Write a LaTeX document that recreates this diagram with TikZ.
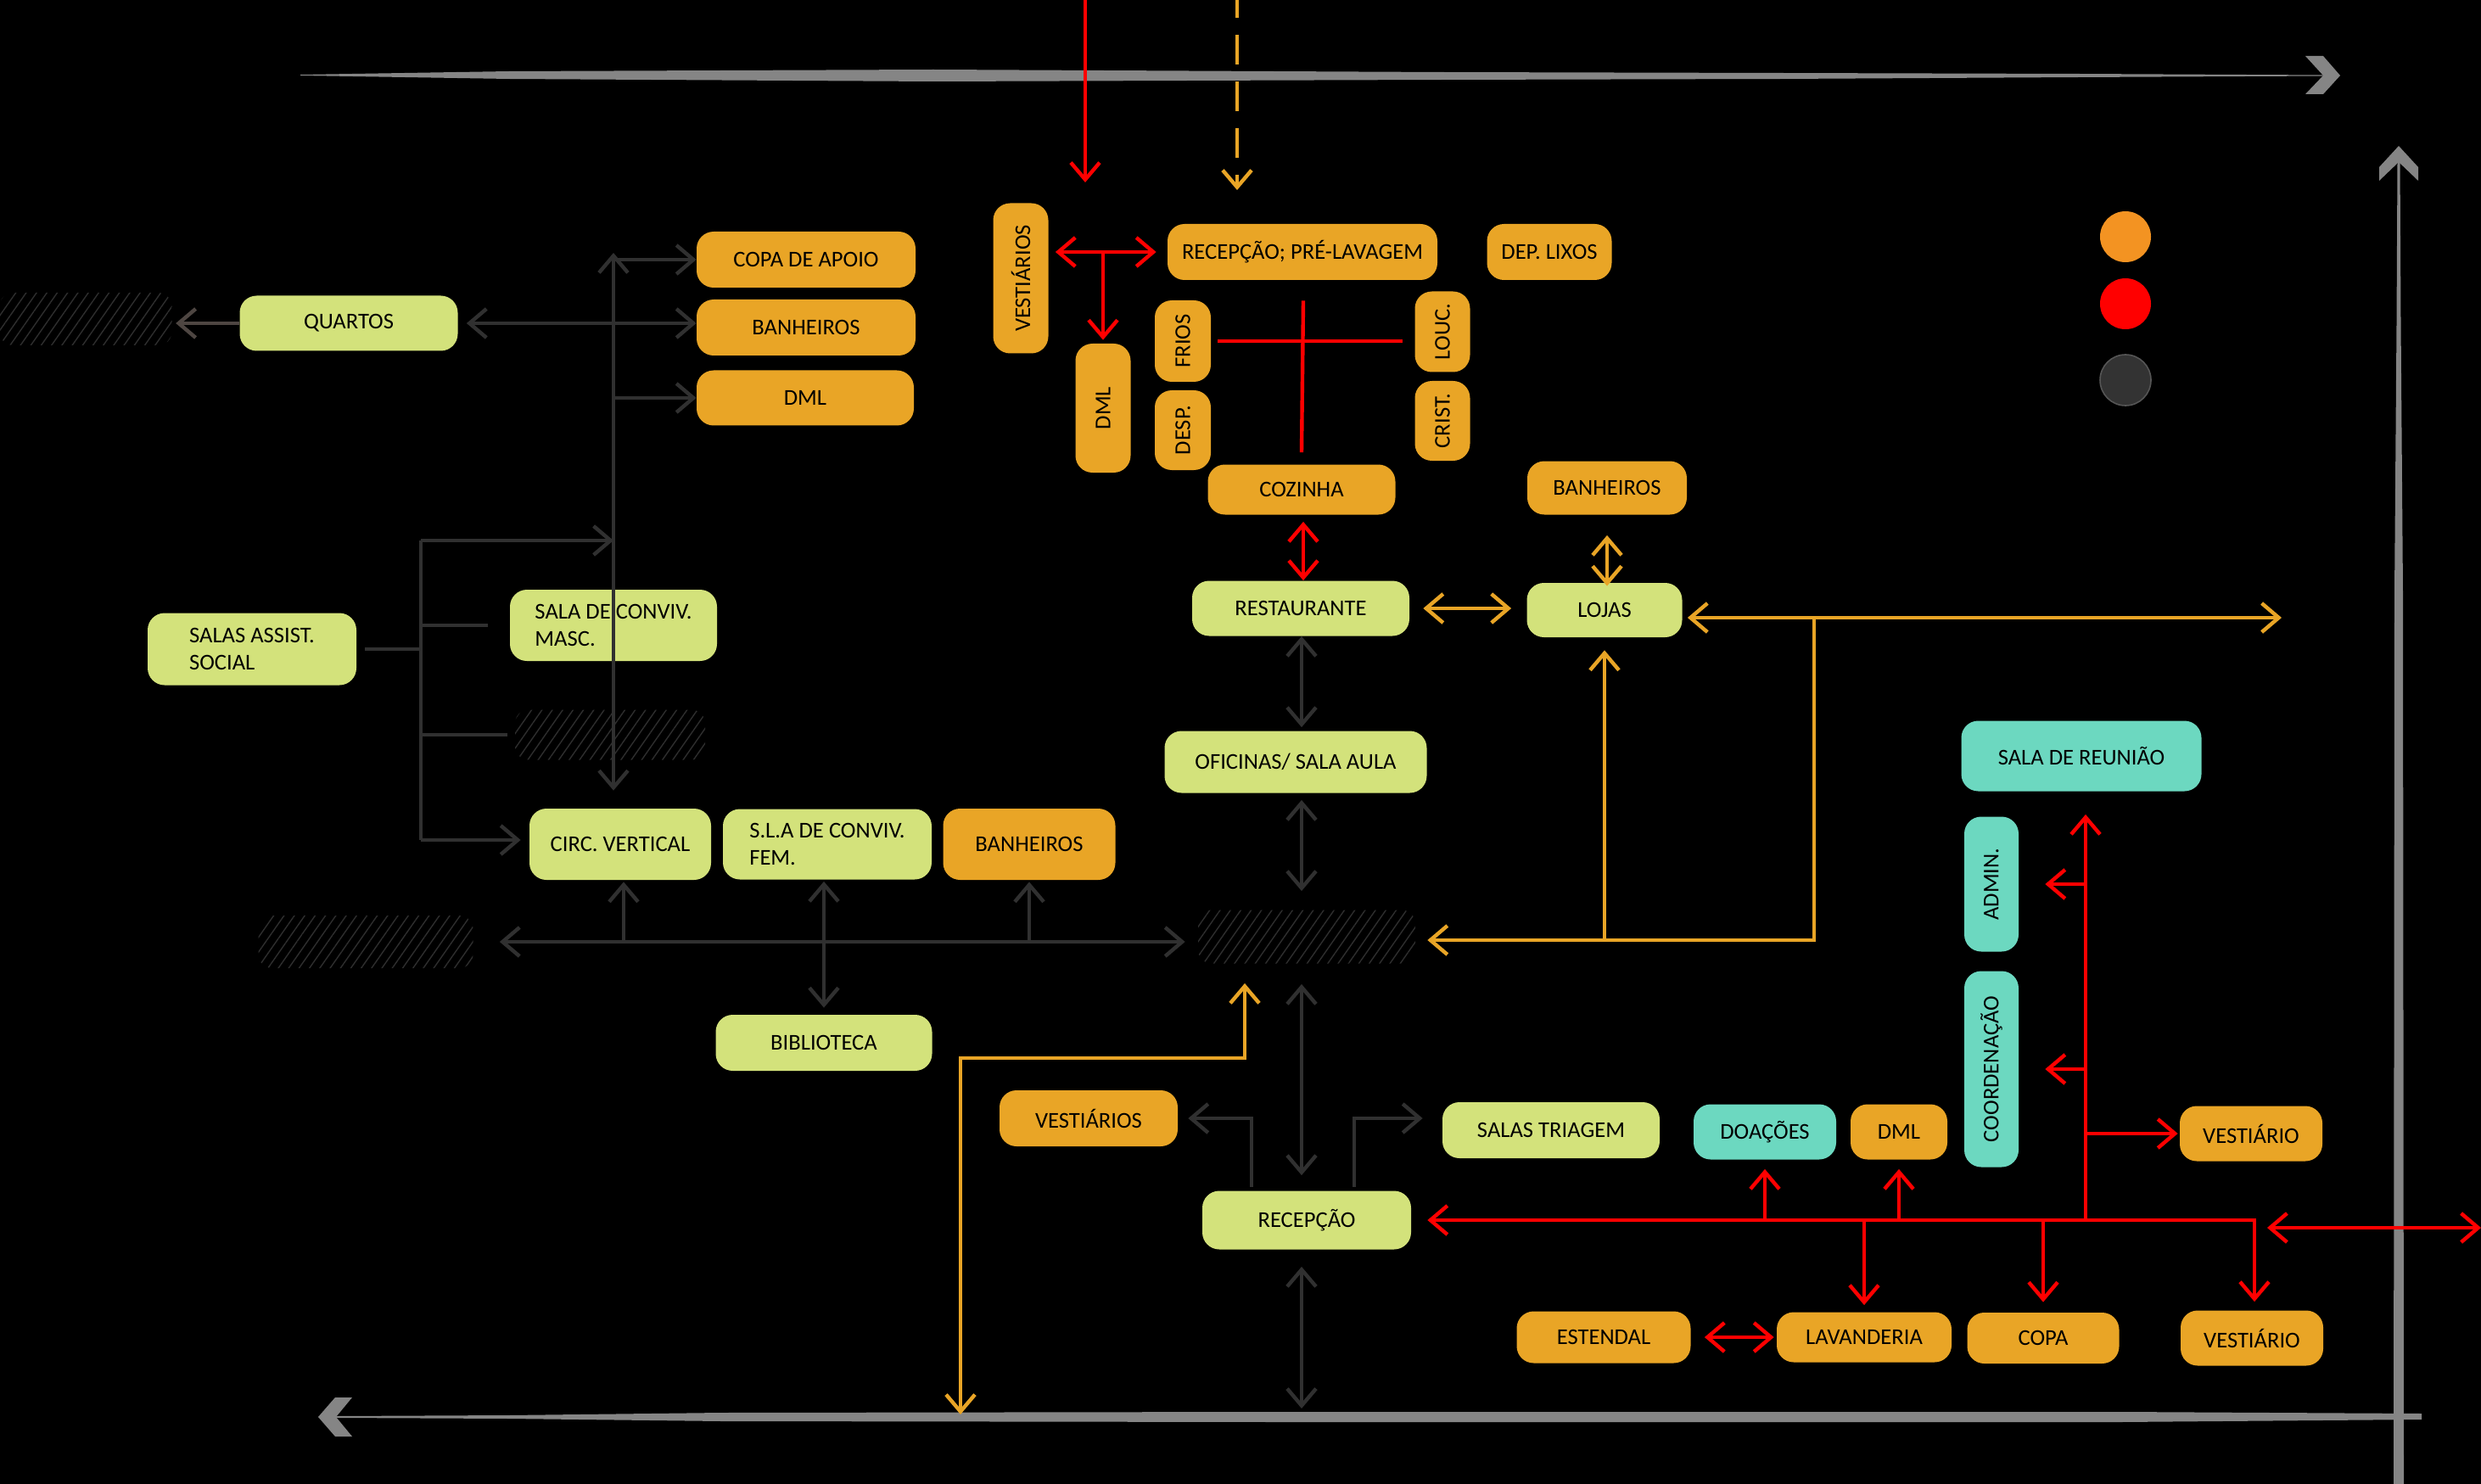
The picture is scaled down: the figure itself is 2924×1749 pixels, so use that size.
\documentclass[tikz,border=0pt]{standalone}
\usepackage{fontspec}
\setmainfont{Carlito}
\usepackage{graphicx}
\usetikzlibrary{arrows.meta,patterns.meta,calc}
\definecolor{orn}{HTML}{E9A526}
\definecolor{grn}{HTML}{D3E27B}
\definecolor{tea}{HTML}{6CD8C0}
\definecolor{dkl}{HTML}{303030}
\definecolor{qcl}{HTML}{4E4642}
\definecolor{rdl}{HTML}{FF0000}
\definecolor{gry}{HTML}{858585}
\definecolor{leg}{HTML}{F39322}
\definecolor{htc}{HTML}{2E2E2E}
\definecolor{legd}{HTML}{333333}
\definecolor{legb}{HTML}{555555}
\begin{document}
\begin{tikzpicture}[x=0.5pt,y=-0.5pt,
  box/.style={rounded corners=10pt, inner sep=0pt, text=black,
    font=\fontsize{13.3pt}{16pt}\selectfont},
  ob/.style={box,fill=orn},
  gb/.style={box,fill=grn},
  tb/.style={box,fill=tea},
  hb/.style={rounded corners=8pt, inner sep=0pt,
    pattern={Lines[angle=55,distance=5pt,line width=0.7pt]}, pattern color=htc},
  sz/.style 2 args={minimum width=#1*0.5pt, minimum height=#2*0.5pt},
  con/.style={line width=2.2pt, >={Straight Barb[length=10pt,width=17pt]}},
  dcn/.style={con, draw=dkl},
  rcn/.style={con, draw=rdl},
  ocn/.style={con, draw=orn},
  legdot/.style={circle, inner sep=0pt, minimum size=30pt}
]
% background and bounding box
\fill[black] (0,0) rectangle (2924,1749);
\useasboundingbox (0,0) rectangle (2924,1749);

% gray frame strokes
\fill[gry] (354,88) -- (600,84) -- (1100,82) -- (1700,85) -- (2100,86) -- (2450,87) -- (2745,88.5)
  -- (2745,89.5) -- (2450,91) -- (2100,93) -- (1700,94) -- (1100,96) -- (600,93) -- (354,89) -- cycle;
\fill[gry] (2717,66) -- (2738,66) -- (2758,89) -- (2738,111) -- (2717,111) -- (2738,89) -- cycle;
\fill[gry] (2825.5,188) -- (2828.5,188) -- (2829.5,380) -- (2832,700) -- (2833,1749)
  -- (2821,1749) -- (2822,700) -- (2824.5,380) -- cycle;
\fill[gry] (2827,172) -- (2850,197) -- (2850,213) -- (2827,191) -- (2804,213) -- (2804,197) -- cycle;
\fill[gry] (396,1669) -- (600,1668) -- (850,1665) -- (1500,1664) -- (2500,1664) -- (2854,1666)
  -- (2854,1673) -- (2500,1676) -- (1500,1676) -- (850,1675) -- (600,1672) -- (396,1671) -- cycle;
\fill[gry] (375,1670) -- (395,1647) -- (415,1647) -- (396,1670) -- (415,1693) -- (395,1693) -- cycle;

% legend
\node[legdot, fill=leg] (legO) at (2505,279) {};
\node[legdot, fill=rdl] (legR) at (2505,358) {};
\node[legdot, fill=legd, draw=legb, line width=0.8pt] (legD) at (2505,448) {};

% left wing
\node[hb, sz={203}{62}] (h1) at (101,376) {};
\node[gb, sz={257}{65}] (quartos) at (411,381) {QUARTOS};
\node[ob, sz={258}{66}] (copa) at (950,306) {COPA DE APOIO};
\node[ob, sz={258}{66}] (banh1) at (950,386) {BANHEIROS};
\node[ob, sz={256}{65}] (dml1) at (949,469) {DML};
\node[gb, sz={246}{85}, align=left] (salas) at (297,765) {SALAS ASSIST.\\SOCIAL};
\node[gb, sz={244}{84}, align=left] (masc) at (723,737) {SALA DE CONVIV.\\MASC.};
\node[hb, sz={224}{59}] (h2) at (719,866) {};
\node[gb, sz={214}{84}] (circ) at (731,995) {CIRC. VERTICAL};
\node[gb, sz={246}{83}, align=left] (fem) at (975,995) {S.L.A DE CONVIV.\\FEM.};
\node[ob, sz={203}{84}] (banh3) at (1213,995) {BANHEIROS};
\node[hb, sz={253}{62}] (h3) at (431,1110) {};
\node[gb, sz={255}{66}] (biblio) at (971,1229) {BIBLIOTECA};

% kitchen cluster
\node[ob, sz={65}{177}] (vest1) at (1203,328) {\rotatebox{90}{VESTIÁRIOS}};
\node[ob, sz={318}{66}] (recpl) at (1535,297) {RECEPÇÃO; PRÉ-LAVAGEM};
\node[ob, sz={147}{66}] (deplix) at (1826,297) {DEP. LIXOS};
\node[ob, sz={65}{152}] (dml2) at (1300,481) {\rotatebox{90}{DML}};
\node[ob, sz={66}{96}] (frios) at (1394,402) {\rotatebox{90}{FRIOS}};
\node[ob, sz={66}{94}] (desp) at (1394,507) {\rotatebox{90}{DESP.}};
\node[ob, sz={65}{95}] (louc) at (1700,391) {\rotatebox{90}{LOUC.}};
\node[ob, sz={65}{94}] (crist) at (1700,496) {\rotatebox{90}{CRIST.}};
\node[ob, sz={221}{59}] (coz) at (1534,577) {COZINHA};
\node[ob, sz={188}{63}] (banh2) at (1894,575) {BANHEIROS};
\node[gb, sz={256}{65}] (rest) at (1533,717) {RESTAURANTE};
\node[gb, sz={183}{64}] (lojas) at (1891,719) {LOJAS};
\node[gb, sz={309}{73}] (ofic) at (1527,898) {OFICINAS/ SALA AULA};
\node[hb, sz={256}{63}] (h4) at (1540,1104) {};

% lower part
\node[ob, sz={210}{66}] (vest2) at (1283,1318) {VESTIÁRIOS};
\node[gb, sz={246}{69}] (recep) at (1540,1438) {RECEPÇÃO};
\node[gb, sz={256}{66}] (triag) at (1828,1332) {SALAS TRIAGEM};
\node[ob, sz={205}{61}] (estend) at (1890,1576) {ESTENDAL};
\node[ob, sz={206}{59}] (lavand) at (2197,1576) {LAVANDERIA};
\node[ob, sz={179}{60}] (copa2) at (2408,1577) {COPA};
\node[tb, sz={168}{65}] (doac) at (2080,1334) {DOAÇÕES};
\node[ob, sz={114}{65}] (dml3) at (2238,1334) {DML};
\node[ob, sz={168}{65}] (vestU) at (2653,1336) {VESTIÁRIO};
\node[ob, sz={168}{65}] (vestL) at (2654,1577) {VESTIÁRIO};
\node[tb, sz={283}{83}] (reun) at (2453,891) {SALA DE REUNIÃO};
\node[tb, sz={64}{159}] (admin) at (2347,1042) {\rotatebox{90}{ADMIN.}};
\node[tb, sz={64}{231}] (coord) at (2347,1260) {\rotatebox{90}{COORDENAÇÃO}};

% named free ends / junctions
\coordinate (spT) at (723,298);
\coordinate (brT) at (496,637);
\coordinate (brB) at (496,990);
\coordinate (rtop) at (1279,0);
\coordinate (rtopE) at (1279,215);
\coordinate (dtop) at (1458,0);
\coordinate (dtopE) at (1458,224);
\coordinate (busR) at (2657,1438);
\coordinate (busV) at (2458,1438);
\coordinate (rIn) at (2672,1447);
\coordinate (rEdge) at (2924,1447);
\coordinate (oR) at (2689,728);
\coordinate (oJ) at (2138,728);
\coordinate (oB) at (2138,1108);
\coordinate (oD1) at (1467,1247);
\coordinate (oD2) at (1132,1247);
\coordinate (oD3) at (1132,1667);
\coordinate (botC) at (1534,1660);

% ---- dark connectors
\draw[dcn,<->,shorten >=10.5pt] (spT) -- (spT |- circ.north);
\draw[dcn,->] (spT |- copa.west) -- (copa.west);
\draw[dcn,<->] ([xshift=5pt]quartos.east) -- (banh1.west |- quartos.east);
\draw[dcn,->] (spT |- dml1.west) -- (dml1.west);
\draw[con,draw=qcl,->] (quartos.west) -- ([xshift=2pt]h1.east |- quartos.west);
\draw[dcn] ([xshift=5pt]salas.east) -- (brT |- salas.east);
\draw[dcn] (brT) -- (brB);
\draw[dcn,->] (brT) -- (spT |- brT);
\draw[dcn] (brT |- masc.west) -- ([xshift=-13pt]masc.west);
\draw[dcn] (brT |- h2.west) -- ([xshift=-4.5pt]h2.west);
\draw[dcn,->] (brB) -- ([xshift=-5pt]circ.west |- brB);
\draw[dcn,<->] ([xshift=15.5pt]h3.east) -- ([xshift=-7.5pt]h4.west |- h3.east);
\draw[dcn,->] ([xshift=2pt]circ.south |- h3.east) -- ([xshift=2pt,yshift=-1pt]circ.south);
\draw[dcn,<->] (biblio.north |- fem.south) ++(0,2) -- ([yshift=4pt]biblio.north);
\draw[dcn,->] (banh3.south |- h3.east) -- ([yshift=-1pt]banh3.south);
\draw[dcn,<->] ([xshift=0.5pt]rest.south) -- ([xshift=0.5pt,yshift=2pt]rest.south |- ofic.north);
\draw[dcn,<->] ([yshift=-4pt]ofic.south -| botC) -- ([yshift=11pt]h4.north -| botC);
\draw[dcn,<->] ([yshift=-12pt]h4.south -| botC) -- ([yshift=9pt]recep.north -| botC);
\draw[dcn,<->] ([yshift=-10pt]recep.south -| botC) -- (botC);
\draw[dcn,->] ([xshift=-32.5pt,yshift=2pt]recep.north) |- ([xshift=6pt]vest2.east);
\draw[dcn,->] ([xshift=28pt,yshift=2pt]recep.north) |- ([xshift=-11.5pt]triag.west |- vest2.east);

% ---- red connectors
\draw[rcn,->] (rtop) -- (rtopE);
\draw[rcn,<->] ([xshift=4pt]vest1.east |- recpl.west) -- ([xshift=-6.5pt]recpl.west);
\draw[rcn,->] (dml2.north |- recpl.west) -- ([yshift=2pt]dml2.north);
\draw[rcn] ([xshift=4pt]frios.east) -- ([xshift=-7pt]louc.west |- frios.east);
\draw[rcn] ([xshift=0.5pt,yshift=-12pt]recpl.south) -- ([yshift=7pt]coz.north);
\draw[rcn,<->] ([xshift=1pt,yshift=-4pt]coz.south) -- ([xshift=1pt]coz.south |- rest.north);
\draw[rcn,<->] ([xshift=9.5pt]recep.east) -- (busR) -- ([yshift=5pt]busR |- vestL.north);
\draw[rcn,->] (busV) -- ([yshift=-13.5pt]busV |- reun.south);
\draw[rcn,->] (busV |- admin.east) -- ([xshift=15.5pt]admin.east);
\draw[rcn,->] (busV |- coord.east) -- ([xshift=15.5pt]coord.east);
\draw[rcn,->] (busV |- vestU.west) -- ([xshift=-1pt]vestU.west);
\draw[rcn,->] (doac.south |- busR) -- ([yshift=-5.5pt]doac.south);
\draw[rcn,->] (dml3.south |- busR) -- ([yshift=-5.5pt]dml3.south);
\draw[rcn,->] (lavand.north |- busR) -- ([yshift=4pt]lavand.north);
\draw[rcn,->] (copa2.north |- busR) -- ([yshift=6pt]copa2.north);
\draw[rcn,<->] (rIn) -- (rEdge);
\draw[rcn,<->] ([xshift=8pt]estend.east) -- ([xshift=-1.5pt]lavand.west |- estend.east);

% ---- orange connectors
\draw[ocn,->,dash pattern=on 17.5pt off 10pt,dash phase=7pt] (dtop) -- (dtopE);
\draw[ocn,<->] ([xshift=8pt]rest.east) -- ([xshift=-9pt]lojas.west |- rest.east);
\draw[ocn,<->] ([yshift=-12pt]banh2.south) -- ([yshift=-2pt]banh2.south |- lojas.north);
\draw[ocn,<->] ([xshift=3pt]lojas.east |- oR) -- (oR);
\draw[ocn,->] (oJ) -- (oB) -- ([xshift=7pt]h4.east |- oB);
\draw[ocn,->] (lojas.south |- oB) -- ([yshift=-7.5pt]lojas.south);
\draw[ocn,<->] ([yshift=-11.5pt]h4.south -| oD1) -- (oD1) -- (oD2) -- (oD3);
\end{tikzpicture}
\end{document}
